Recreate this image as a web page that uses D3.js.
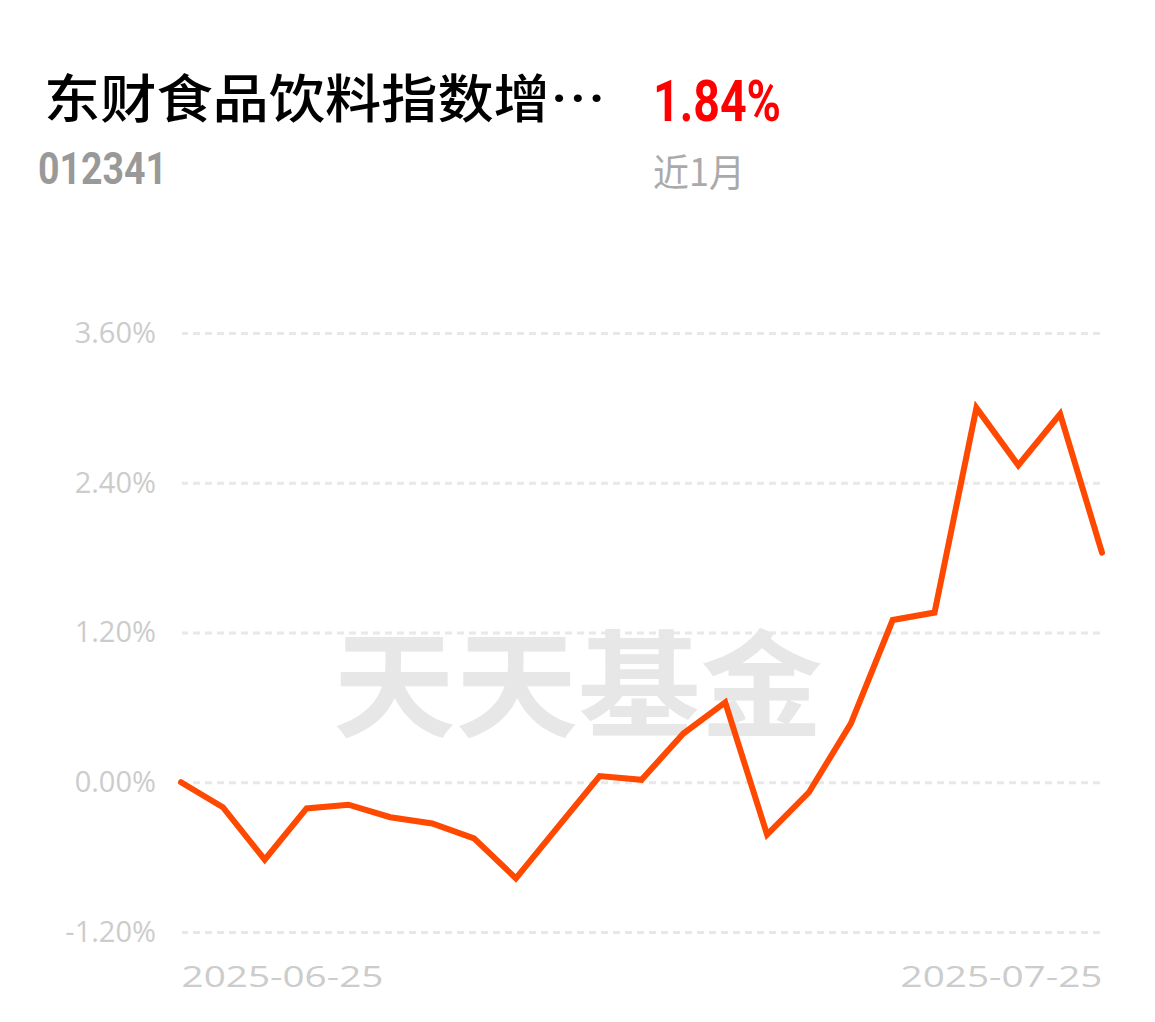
<!DOCTYPE html>
<html>
<head>
<meta charset="utf-8">
<script src="https://cdn.jsdelivr.net/npm/d3@7"></script>
<style>
  html, body { margin: 0; padding: 0; background: #fff; }
  svg { display: block; }
</style>
</head>
<body>
<svg id="chart" width="1155" height="1022"></svg>
<script>
const fundName = "东财食品饮料指数增…";
const fundCode = "012341";
const periodReturn = "1.84%";
const periodLabel = "近1月";
const watermark = "天天基金";

const dates = [
  "2025-06-25","2025-06-26","2025-06-27","2025-06-30","2025-07-01","2025-07-02",
  "2025-07-03","2025-07-04","2025-07-07","2025-07-08","2025-07-09","2025-07-10",
  "2025-07-11","2025-07-14","2025-07-15","2025-07-16","2025-07-17","2025-07-18",
  "2025-07-21","2025-07-22","2025-07-23","2025-07-24","2025-07-25"
];
const returns = [
  0.00, -0.20, -0.62, -0.21, -0.18, -0.28, -0.33, -0.45, -0.77, -0.36, 0.05, 0.02,
  0.39, 0.64, -0.42, -0.08, 0.47, 1.30, 1.36, 3.00, 2.54, 2.95, 1.84
];
const yTicks = [-1.2, 0, 1.2, 2.4, 3.6];
const xTickLabels = ["2025-06-25", "2025-07-25"];

const svg = d3.select("#chart");
const cjk = "'Noto Sans CJK SC', 'Noto Sans', sans-serif";

// Header
svg.append("text").attr("x", 44).attr("y", 118)
  .attr("font-family", cjk).attr("font-size", 52).attr("font-weight", 500)
  .attr("fill", "#000").attr("textLength", 562).attr("lengthAdjust", "spacingAndGlyphs")
  .text(fundName);
svg.append("text").attr("x", 653).attr("y", 121)
  .attr("font-family", "Roboto, 'Noto Sans', sans-serif").attr("font-size", 58).attr("font-weight", 700)
  .attr("fill", "#ff0000").attr("textLength", 128).attr("lengthAdjust", "spacingAndGlyphs")
  .text(periodReturn);
svg.append("text").attr("x", 38).attr("y", 184)
  .attr("font-family", "Roboto, 'Noto Sans', sans-serif").attr("font-size", 44).attr("font-weight", 700)
  .attr("fill", "#999").attr("textLength", 129).attr("lengthAdjust", "spacingAndGlyphs")
  .text(fundCode);
svg.append("text").attr("x", 653).attr("y", 186)
  .attr("font-family", cjk).attr("font-size", 38)
  .attr("fill", "#aaa").attr("textLength", 92).attr("lengthAdjust", "spacingAndGlyphs")
  .text(periodLabel);

// Scales
const x = d3.scalePoint().domain(dates).range([181, 1102]);
const y = d3.scaleLinear().domain([-1.2, 3.6]).range([932, 333]);

// Watermark
svg.append("text").attr("x", 333).attr("y", 728)
  .attr("font-family", "'Noto Sans CJK SC', sans-serif").attr("font-size", 116).attr("font-weight", 700)
  .attr("fill", "#e7e7e7").attr("textLength", 490).attr("lengthAdjust", "spacingAndGlyphs")
  .text(watermark);

// Y axis with gridlines (axis placed at right edge, lines extend left)
const yAxis = d3.axisLeft(y).tickValues(yTicks)
  .tickFormat(d => d.toFixed(2) + "%")
  .tickSize(918).tickPadding(26);
const yg = svg.append("g").attr("transform", "translate(1100,0)").call(yAxis);
yg.select(".domain").remove();
yg.selectAll(".tick line")
  .attr("stroke", "#e8e8e8").attr("stroke-width", 3).attr("stroke-dasharray", "7,5");
yg.selectAll(".tick text")
  .attr("x", -944)
  .attr("fill", "#ccc").attr("font-size", 29)
  .attr("font-family", "'Open Sans', 'Noto Sans', sans-serif")
  .attr("text-anchor", "end");

// X axis labels
const xAxis = d3.axisBottom(x).tickValues(xTickLabels).tickSize(0).tickPadding(0);
const xg = svg.append("g").attr("transform", "translate(0,987)").call(xAxis);
xg.select(".domain").remove();
xg.selectAll(".tick text")
  .attr("y", 0).attr("dy", 0)
  .attr("fill", "#ccc").attr("font-size", 30)
  .attr("font-family", "'Open Sans', 'Noto Sans', sans-serif")
  .attr("text-anchor", (d, i) => i === 0 ? "start" : "end")
  .attr("textLength", 202).attr("lengthAdjust", "spacingAndGlyphs");

// Line
const line = d3.line().x((d, i) => x(dates[i])).y(d => y(d));
svg.append("path").datum(returns)
  .attr("d", line)
  .attr("fill", "none").attr("stroke", "#ff4800").attr("stroke-width", 6)
  .attr("stroke-linejoin", "miter").attr("stroke-linecap", "round");
</script>
</body>
</html>
